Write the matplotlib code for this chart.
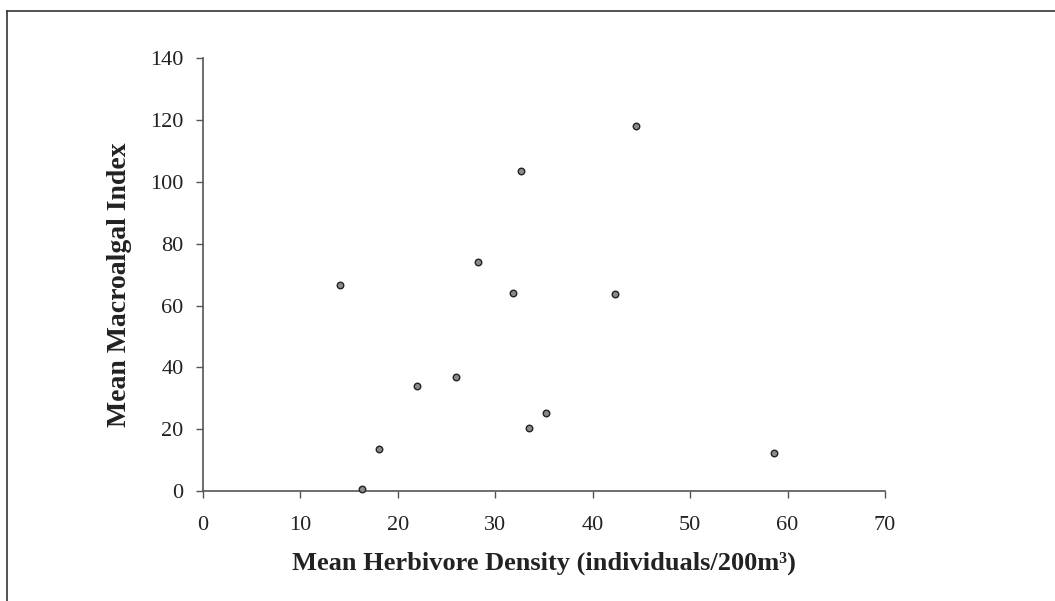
import matplotlib
matplotlib.use("Agg")
import matplotlib.pyplot as plt
from matplotlib.lines import Line2D

# herbivore density vs macroalgal index, one point per site
herbivore_density = [14.1, 16.3, 18.1, 22.0, 26.0, 28.2, 31.8, 32.6, 33.5, 35.2, 42.3, 44.4, 58.6]
macroalgal_index = [66.8, 0.6, 13.7, 34.0, 37.0, 74.2, 64.1, 103.7, 20.5, 25.1, 63.8, 118.0, 12.4]

x_ticks = [0, 10, 20, 30, 40, 50, 60, 70]
y_ticks = [0, 20, 40, 60, 80, 100, 120, 140]

plt.rcParams['font.family'] = ['Liberation Serif', 'DejaVu Serif']

fig = plt.figure(figsize=(10.55, 6.01), dpi=100)
ax = fig.add_axes([0.1924, 0.1830, 0.6465, 0.7197])

ax.scatter(herbivore_density, macroalgal_index, s=22, facecolor='#8a8a8a',
           edgecolor='#222222', linewidths=1.0, zorder=3, clip_on=False)

ax.set_xlim(0, 70)
ax.set_ylim(0, 140)
ax.set_xticks(x_ticks)
ax.set_yticks(y_ticks)

for side in ['top', 'right']:
    ax.spines[side].set_visible(False)
for side in ['left', 'bottom']:
    ax.spines[side].set_color('#555555')
    ax.spines[side].set_linewidth(1.2)

ax.tick_params(axis='both', direction='out', length=5, width=1.0, color='#555555',
               labelsize=16, labelcolor='#222222')
ax.tick_params(axis='x', pad=13)
ax.tick_params(axis='y', pad=9)

ax.set_xlabel('Mean Herbivore Density (individuals/200m³)', fontsize=19,
              fontweight='bold', color='#222222', labelpad=12)
ax.set_ylabel('Mean Macroalgal Index', fontsize=20, fontweight='bold',
              color='#222222')
ax.yaxis.set_label_coords(-0.104, 0.476)

# outer frame of the figure (left and top edges)
fig.add_artist(Line2D([0.0066, 0.0066], [0.0, 0.9817], transform=fig.transFigure,
                      color='#333333', linewidth=1.2))
fig.add_artist(Line2D([0.0066, 1.0], [0.9817, 0.9817], transform=fig.transFigure,
                      color='#333333', linewidth=1.2))

fig.savefig('out.png', dpi=100)
